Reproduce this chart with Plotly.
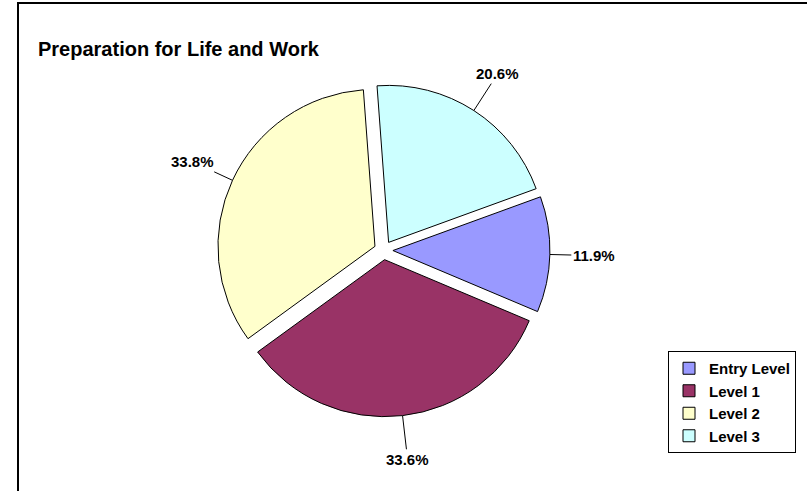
import numpy as np
import plotly.graph_objects as go

# data
levels = ["Entry Level", "Level 1", "Level 2", "Level 3"]
shares = [11.9, 33.6, 33.8, 20.6]
colors = ["#9999FF", "#993366", "#FFFFCC", "#CCFFFF"]

W, H = 807, 491
# pie geometry in pixels (plotly: r = half box / (1 + pull))
cx, cy, r = 383.5, 250.3, 157
pull = 0.06
rotation = 70
half = r * (1 + pull)

fig = go.Figure(go.Pie(
    labels=[f"<b>{n}</b>" for n in levels],
    values=shares,
    sort=False,
    direction="clockwise",
    rotation=rotation,
    pull=pull,
    marker=dict(colors=colors, line=dict(color="black", width=1)),
    textinfo="none",
    domain=dict(x=[(cx - half) / W, (cx + half) / W],
                y=[1 - (cy + half) / H, 1 - (cy - half) / H]),
))

# percentage labels with leader lines, placed at each slice's mid angle
vals = np.array(shares)
frac = vals / vals.sum()
mid = rotation + 360 * (np.cumsum(frac) - frac / 2)
for v, a in zip(shares, np.radians(mid)):
    dx, dy = np.sin(a), -np.cos(a)
    edge = r * (1 + pull)
    dist = 1.34 * r - edge
    fig.add_annotation(
        x=(cx + edge * dx) / W, y=1 - (cy + edge * dy) / H,
        xref="paper", yref="paper",
        text=f"<b>{v:.1f}%</b>",
        showarrow=True, arrowhead=0, arrowwidth=1, arrowcolor="black",
        ax=dist * dx, ay=dist * dy,
        font=dict(family="Arial, Liberation Sans", size=15, color="black"),
    )

# chart frame
fig.add_shape(type="rect", xref="paper", yref="paper",
              x0=18 / W, x1=1.05, y0=-0.05, y1=1 - 3 / H,
              line=dict(color="black", width=2), fillcolor="rgba(0,0,0,0)")

fig.update_layout(
    width=W, height=H,
    margin=dict(l=0, r=0, t=0, b=0),
    paper_bgcolor="white",
    plot_bgcolor="white",
    font=dict(family="Arial, Liberation Sans", color="black"),
    title=dict(text="<b>Preparation for Life and Work</b>", x=38 / W, xanchor="left",
               y=1 - 49 / H, yanchor="middle", xref="paper", yref="paper",
               font=dict(size=20)),
    legend=dict(x=668 / W, xanchor="left", y=1 - 351 / H, yanchor="top",
                bordercolor="black", borderwidth=1, bgcolor="white",
                font=dict(size=15), itemwidth=30, tracegroupgap=0),
)

fig.write_html("out.html", config={"displayModeBar": False},
               post_script="document.body.style.margin='0';")
